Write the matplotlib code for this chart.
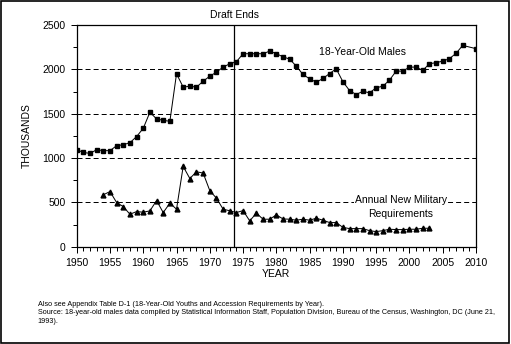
import numpy as np
import matplotlib
matplotlib.use('Agg')
import matplotlib.pyplot as plt
from matplotlib.patches import Rectangle
from matplotlib.ticker import MultipleLocator

plt.rcParams['font.family'] = ['Liberation Sans', 'DejaVu Sans']
plt.rcParams['lines.scale_dashes'] = False

# 18-year-old males (thousands)
male_years = list(range(1950, 2009)) + [2010]
male_vals = [1094, 1063, 1052, 1094, 1083, 1083, 1139, 1150, 1173, 1242,
             1335, 1516, 1441, 1425, 1414, 1950, 1799, 1810, 1799, 1866,
             1923, 1968, 2025, 2063, 2086, 2176, 2176, 2176, 2176, 2206,
             2176, 2142, 2115, 2036, 1942, 1893, 1855, 1897, 1953, 2006,
             1860, 1761, 1716, 1753, 1735, 1792, 1810, 1878, 1980, 1980,
             2025, 2025, 1988, 2063, 2075, 2093, 2120, 2180, 2270, 2233]

# annual new military requirements (thousands)
mil_years = list(range(1954, 2004))
mil_vals = [585, 622, 498, 452, 366, 396, 389, 404, 520, 385,
            491, 423, 905, 769, 845, 830, 632, 547, 423, 405,
            385, 407, 291, 378, 310, 310, 359, 313, 310, 299,
            310, 299, 321, 299, 272, 272, 218, 204, 204, 204,
            181, 170, 181, 197, 193, 193, 197, 197, 208, 208]

draft_end = 1973.7

fig = plt.figure(figsize=(5.11, 3.44), dpi=100)
ax = fig.add_axes([76.7/511, 97.3/344, 399.3/511, 221.7/344])

for v in [500, 1000, 1500, 2000]:
    ax.axhline(v, color='k', lw=0.72, ls=(0, (3.6, 2.2)), zorder=1)

ax.plot(male_years, male_vals, color='k', lw=0.72, marker='s', ms=2.8, zorder=3)
ax.plot(mil_years, mil_vals, color='k', lw=0.72, marker='^', ms=3.5, zorder=3)
ax.axvline(draft_end, color='k', lw=0.9, zorder=2)

ax.set_xlim(1950, 2010)
ax.set_ylim(0, 2500)
ax.xaxis.set_major_locator(MultipleLocator(5))
ax.xaxis.set_minor_locator(MultipleLocator(1))
ax.yaxis.set_major_locator(MultipleLocator(500))
ax.yaxis.set_minor_locator(MultipleLocator(250))
ax.tick_params(which='both', direction='out', width=0.72, labelsize=7.5, color='k')
ax.tick_params(which='major', length=4, pad=4)
ax.tick_params(which='minor', length=3)
for s in ax.spines.values():
    s.set_linewidth(0.9)

ax.set_xlabel('YEAR', fontsize=7.5, labelpad=1)
ax.set_ylabel('THOUSANDS', fontsize=7.5, labelpad=8)

ax.text(draft_end, 2560, 'Draft Ends', ha='center', va='bottom', fontsize=7.5)
ax.text(1992.9, 2195, '18-Year-Old Males', ha='center', va='center', fontsize=7.5)
ax.text(1998.7, 447, 'Annual New Military\nRequirements', ha='center', va='center',
        fontsize=7.5, linespacing=1.45,
        bbox=dict(facecolor='white', edgecolor='none', pad=0.5), zorder=4)

fig.text(37.7/511, 1 - 313/344,
         'Also see Appendix Table D-1 (18-Year-Old Youths and Accession Requirements by Year).\n'
         'Source: 18-year-old males data compiled by Statistical Information Staff, Population Division, '
         'Bureau of the Census, Washington, DC (June 21,\n1993).',
         ha='left', va='center', fontsize=5.25, linespacing=1.35)

fig.patches.append(Rectangle((0.5/511, 1.5/344), 508/511, 342/344, transform=fig.transFigure,
                             fill=False, edgecolor='k', lw=1.2))

fig.savefig('out.png', dpi=100)
